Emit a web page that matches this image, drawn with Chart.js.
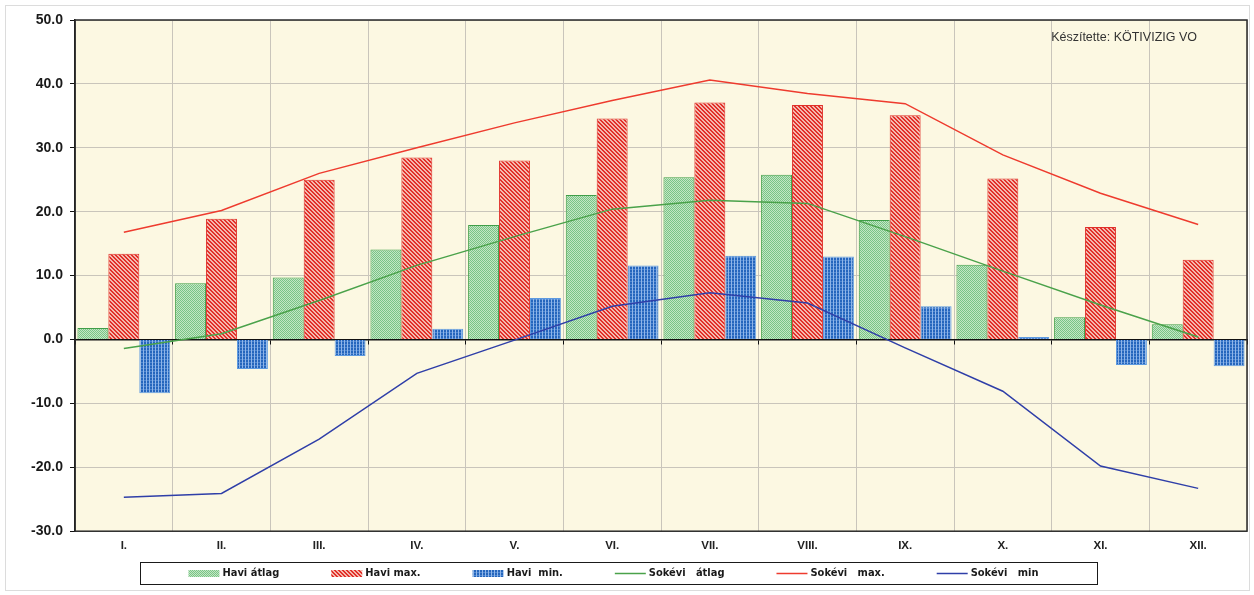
<!DOCTYPE html>
<html lang="hu">
<head>
    <meta charset="UTF-8">
    <title>Havi hőmérséklet</title>
    <script src="https://cdn.jsdelivr.net/npm/chart.js"></script>
    <style>
        html, body {
            margin: 0;
            padding: 0;
            background-color: #ffffff;
        }
        #wrap {
            position: relative;
            width: 1254px;
            height: 595px;
        }
    </style>
</head>
<body>

    <div id="wrap"><canvas id="homersekletChart"></canvas></div>

    <script>
        // adatok
        const honapok = ['I.', 'II.', 'III.', 'IV.', 'V.', 'VI.', 'VII.', 'VIII.', 'IX.', 'X.', 'XI.', 'XII.'];
        const haviAtlag = [1.8, 8.8, 9.7, 14.1, 17.9, 22.6, 25.4, 25.8, 18.7, 11.7, 3.5, 2.4];
        const haviMax = [13.4, 18.9, 25.0, 28.5, 28.0, 34.6, 37.1, 36.7, 35.1, 25.2, 17.6, 12.5];
        const haviMin = [-8.4, -4.6, -2.6, 1.7, 6.5, 11.6, 13.1, 13.0, 5.2, 0.4, -4.0, -4.2];
        const sokeviAtlag = [-1.4, 0.9, 6.1, 11.6, 16.1, 20.4, 21.8, 21.3, 16.1, 10.7, 5.4, 0.4];
        const sokeviMax = [16.8, 20.2, 26.0, 30.0, 33.9, 37.4, 40.6, 38.5, 36.9, 28.9, 22.9, 18.0];
        const sokeviMin = [-24.7, -24.1, -15.6, -5.3, -0.1, 5.2, 7.3, 5.7, -1.3, -8.1, -19.8, -23.3];
        const yTicks = [-30, -20, -10, 0, 10, 20, 30, 40, 50];

        // mintazatok a oszlopokhoz
        function makePattern(size, painter) {
            const c = document.createElement('canvas');
            c.width = size;
            c.height = size;
            const g = c.getContext('2d');
            for (let x = 0; x < size; x++) {
                for (let y = 0; y < size; y++) {
                    g.fillStyle = painter(x, y);
                    g.fillRect(x, y, 1, 1);
                }
            }
            return g.createPattern(c, 'repeat');
        }

        const ctx = document.getElementById('homersekletChart').getContext('2d');

        const greenPattern = makePattern(2, (x, y) => (x + y) % 2 === 0 ? '#79c487' : '#c4e6c4');
        const redPattern = makePattern(4, (x, y) => ((x - y + 8) % 4) < 2 ? '#e2302a' : '#f4b9ae');
        const bluePattern = makePattern(3, (x, y) => x === 2 ? '#8fb5e8' : (y === 2 ? '#4f88d2' : '#2566bd'));

        const labelFont = '"Liberation Sans Narrow", "DejaVu Sans Condensed", "Liberation Sans", Arial, sans-serif';

        // hatter, keret, felirat
        const framePlugin = {
            id: 'frame',
            beforeDraw(chart) {
                const c = chart.ctx;
                const a = chart.chartArea;
                c.save();
                c.strokeStyle = '#dcdcdc';
                c.lineWidth = 1;
                c.strokeRect(5.5, 5.5, chart.width - 10, chart.height - 10);
                c.fillStyle = '#fcf8e2';
                c.fillRect(a.left, a.top, a.right - a.left, a.bottom - a.top);
                c.restore();
            },
            afterDraw(chart) {
                const c = chart.ctx;
                const a = chart.chartArea;
                c.save();
                c.strokeStyle = '#2a2a2a';
                c.lineWidth = 1.5;
                c.strokeRect(a.left, a.top, a.right - a.left, a.bottom - a.top);

                c.font = '12.5px "Liberation Sans", Arial, sans-serif';
                c.fillStyle = '#333333';
                c.textAlign = 'right';
                c.textBaseline = 'middle';
                c.fillText('Készítette: KÖTIVIZIG VO', a.right - 50, a.top + 18);

                // jelmagyarazat
                const box = { left: 140, top: chart.scales.x2.bottom + 1, width: 957, height: 22 };
                c.lineWidth = 1;
                c.strokeStyle = '#1a1a1a';
                c.strokeRect(box.left + 0.5, box.top + 0.5, box.width, box.height);

                c.font = 'bold 11px ' + labelFont;
                c.textAlign = 'left';
                const sw = 31, gapText = 3;
                const ds = chart.data.datasets;
                const widths = ds.map(d => sw + gapText + c.measureText(d.label).width);
                const total = widths.reduce((s, w) => s + w, 0);
                const gap = 52;
                let x = box.left + (box.width - total - gap * (ds.length - 1)) / 2 - 5;
                const cy = box.top + box.height / 2 + 0.5;
                ds.forEach((d, i) => {
                    if (d.type === 'line') {
                        c.strokeStyle = d.borderColor;
                        c.lineWidth = 1.5;
                        c.beginPath();
                        c.moveTo(x, cy);
                        c.lineTo(x + sw, cy);
                        c.stroke();
                    } else {
                        c.fillStyle = d.backgroundColor;
                        c.fillRect(x, cy - 3.5, sw, 7);
                    }
                    c.fillStyle = '#1a1a1a';
                    c.fillText(d.label, x + sw + gapText, cy);
                    x += widths[i] + gap;
                });
                c.restore();
            }
        };

        new Chart(ctx, {
            type: 'bar',
            data: {
                labels: honapok,
                datasets: [
                    {
                        label: 'Havi átlag',
                        data: haviAtlag,
                        backgroundColor: greenPattern,
                        borderColor: '#3f9e48',
                        borderWidth: 1,
                        order: 1
                    },
                    {
                        label: 'Havi max.',
                        data: haviMax,
                        backgroundColor: redPattern,
                        borderColor: '#e0302a',
                        borderWidth: 1,
                        order: 1
                    },
                    {
                        label: 'Havi  min.',
                        data: haviMin,
                        backgroundColor: bluePattern,
                        borderColor: '#5d9ae0',
                        borderWidth: 1,
                        order: 1
                    },
                    {
                        type: 'line',
                        label: 'Sokévi   átlag',
                        data: sokeviAtlag,
                        borderColor: '#4aa24a',
                        borderWidth: 1.5,
                        pointRadius: 0,
                        tension: 0,
                        order: 0
                    },
                    {
                        type: 'line',
                        label: 'Sokévi   max.',
                        data: sokeviMax,
                        borderColor: '#ee3b2e',
                        borderWidth: 1.5,
                        pointRadius: 0,
                        tension: 0,
                        order: 0
                    },
                    {
                        type: 'line',
                        label: 'Sokévi   min',
                        data: sokeviMin,
                        borderColor: '#2f3fa8',
                        borderWidth: 1.5,
                        pointRadius: 0,
                        tension: 0,
                        order: 0
                    }
                ]
            },
            options: {
                responsive: true,
                maintainAspectRatio: false,
                animation: false,
                datasets: {
                    bar: {
                        categoryPercentage: 0.95,
                        barPercentage: 1
                    }
                },
                layout: {
                    padding: { top: 20, right: 7, bottom: 34, left: 0 }
                },
                plugins: {
                    legend: { display: false },
                    tooltip: { enabled: false }
                },
                scales: {
                    x: {
                        position: { y: 0 },
                        offset: true,
                        ticks: { display: false },
                        grid: {
                            offset: true,
                            color: '#c9c5bb',
                            lineWidth: 1,
                            drawTicks: true,
                            tickLength: 4,
                            tickColor: '#111111'
                        },
                        border: { display: true, color: '#111111', width: 1.5 }
                    },
                    x2: {
                        type: 'category',
                        labels: honapok,
                        position: 'bottom',
                        offset: true,
                        grid: { display: false, drawTicks: false },
                        border: { display: false },
                        ticks: {
                            padding: 8,
                            color: '#222222',
                            font: { family: '"Liberation Sans", Arial, sans-serif', size: 11.5, weight: 'bold' }
                        }
                    },
                    y: {
                        min: -30,
                        max: 50,
                        afterFit: scale => { scale.width = 75; },
                        afterBuildTicks: scale => { scale.ticks = yTicks.map(v => ({ value: v })); },
                        ticks: {
                            padding: 7,
                            color: '#1a1a1a',
                            font: { family: '"Liberation Sans", Arial, sans-serif', size: 14, weight: 'bold' },
                            callback: v => v.toFixed(1)
                        },
                        grid: {
                            color: '#c9c5bb',
                            lineWidth: 1,
                            drawTicks: true,
                            tickLength: 5,
                            tickColor: '#111111'
                        },
                        border: { display: true, color: '#111111', width: 1.5 }
                    }
                }
            },
            plugins: [framePlugin]
        });
    </script>

</body>
</html>
